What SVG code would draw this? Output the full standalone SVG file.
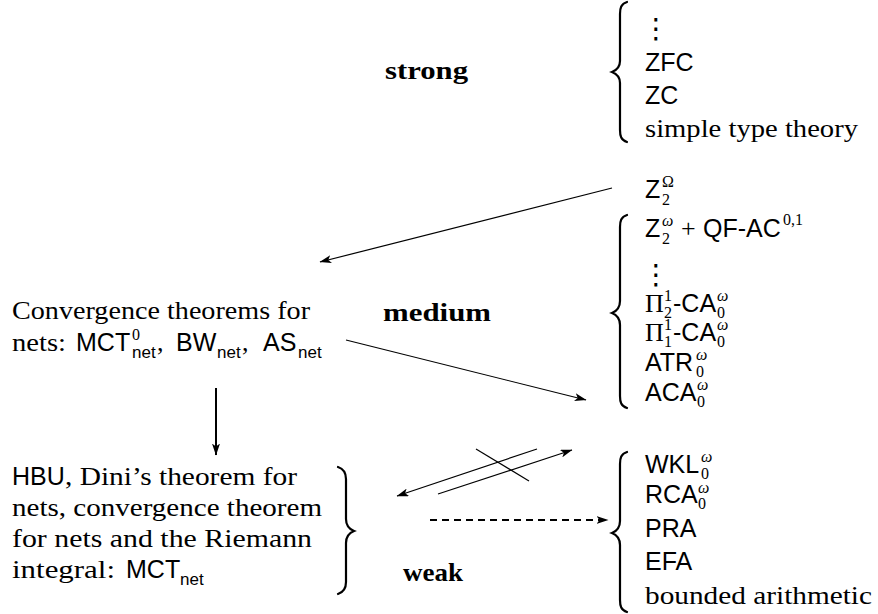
<svg xmlns="http://www.w3.org/2000/svg" width="878" height="614" viewBox="0 0 878 614">
<style>
.s{font-family:"Liberation Sans",Arial,sans-serif;font-size:25px;fill:#000}
.ss{font-family:"Liberation Sans",Arial,sans-serif;font-size:17px;fill:#000}
.r{font-family:"Liberation Serif","Times New Roman",serif;font-size:26px;fill:#000}
.rs{font-family:"Liberation Serif","Times New Roman",serif;font-size:16px;fill:#000}
.ri{font-family:"Liberation Serif","Times New Roman",serif;font-size:16px;font-style:italic;fill:#000}
.b{font-family:"Liberation Serif","Times New Roman",serif;font-size:26px;font-weight:bold;fill:#000}
.dots{font-family:"DejaVu Sans",sans-serif;font-size:28px;fill:#000}
.br{fill:none;stroke:#000;stroke-width:2.2;stroke-linecap:round}
.ln{fill:none;stroke:#000;stroke-width:1.2}
.thk{fill:none;stroke:#000;stroke-width:2}
</style>
<defs>
<marker id="ah" viewBox="0 0 12 8" refX="11.5" refY="4" markerWidth="12" markerHeight="8" markerUnits="userSpaceOnUse" orient="auto">
<path d="M0,0 L12,4 L0,8 L3,4 z" fill="#000"/>
</marker>
</defs>

<g id="label-strong"><text class="b" x="385" y="79" textLength="83" lengthAdjust="spacingAndGlyphs">strong</text></g>
<g id="label-medium"><text class="b" x="383" y="321" textLength="108" lengthAdjust="spacingAndGlyphs">medium</text></g>
<g id="label-weak"><text class="b" x="403" y="581" textLength="60" lengthAdjust="spacingAndGlyphs">weak</text></g>

<g id="strong-systems">
<path class="br" d="M627,2 C621,4 620,8 620,14 L620,61 C620,67 617,70 612,72 C617,74 620,77 620,83 L620,130 C620,136 621,140 627,142"/>
<text class="dots" x="642" y="38">⋮</text>
<text class="s" x="645" y="71">ZFC</text>
<text class="s" x="645" y="104">ZC</text>
<text class="r" x="645" y="137" textLength="213" lengthAdjust="spacingAndGlyphs">simple type theory</text>
</g>

<g id="z2-omega">
<text class="s" x="645" y="198">Z</text>
<text class="rs" x="662" y="205">2</text>
<text class="rs" x="662" y="187">Ω</text>
</g>

<g id="medium-systems">
<path class="br" d="M627,215 C621,217 620,221 620,227 L620,301 C620,307 617,311 612,313 C617,315 620,319 620,325 L620,396 C620,402 621,406 627,408"/>
<text class="s" x="645" y="237">Z</text>
<text class="rs" x="662" y="244">2</text>
<text class="ri" x="662" y="226">ω</text>
<text class="r" x="681" y="237">+</text>
<text class="s" x="703" y="237">QF-AC</text>
<text class="rs" x="783" y="225">0,1</text>
<text class="dots" x="642" y="284">⋮</text>
<text class="r" x="645" y="312">Π</text>
<text class="rs" x="664" y="318">2</text>
<text class="rs" x="664" y="301">1</text>
<text class="s" x="673" y="312">-CA</text>
<text class="rs" x="717" y="318">0</text>
<text class="ri" x="717" y="301">ω</text>
<text class="r" x="645" y="341">Π</text>
<text class="rs" x="664" y="347">1</text>
<text class="rs" x="664" y="330">1</text>
<text class="s" x="673" y="341">-CA</text>
<text class="rs" x="717" y="347">0</text>
<text class="ri" x="717" y="330">ω</text>
<text class="s" x="645" y="371">ATR</text>
<text class="rs" x="696" y="377">0</text>
<text class="ri" x="696" y="360">ω</text>
<text class="s" x="645" y="401">ACA</text>
<text class="rs" x="697" y="407">0</text>
<text class="ri" x="697" y="390">ω</text>
</g>

<g id="weak-systems">
<path class="br" d="M627,452 C621,454 620,458 620,464 L620,521 C620,527 617,531 612,533 C617,535 620,539 620,545 L620,600 C620,606 621,610 627,612"/>
<text class="s" x="645" y="473">WKL</text>
<text class="rs" x="701" y="479">0</text>
<text class="ri" x="701" y="462">ω</text>
<text class="s" x="645" y="503">RCA</text>
<text class="rs" x="698" y="509">0</text>
<text class="ri" x="698" y="493">ω</text>
<text class="s" x="645" y="537">PRA</text>
<text class="s" x="645" y="570">EFA</text>
<text class="r" x="645" y="604" textLength="227" lengthAdjust="spacingAndGlyphs">bounded arithmetic</text>
</g>

<g id="convergence-nets">
<text class="r" x="12" y="319" textLength="298" lengthAdjust="spacingAndGlyphs">Convergence theorems for</text>
<text class="r" x="12" y="351" textLength="54" lengthAdjust="spacingAndGlyphs">nets:</text>
<text class="s" x="76" y="351">MCT</text>
<text class="rs" x="132" y="340">0</text>
<text class="ss" x="132" y="358">net</text>
<text class="r" x="157" y="351">,</text>
<text class="s" x="176" y="351">BW</text>
<text class="ss" x="217" y="358">net</text>
<text class="r" x="242" y="351">,</text>
<text class="s" x="263" y="351">AS</text>
<text class="ss" x="298" y="358">net</text>
</g>

<g id="hbu-dini">
<text class="s" x="12" y="485">HBU</text>
<text class="r" x="65" y="485" textLength="232" lengthAdjust="spacingAndGlyphs">, Dini’s theorem for</text>
<text class="r" x="12" y="516" textLength="310" lengthAdjust="spacingAndGlyphs">nets, convergence theorem</text>
<text class="r" x="12" y="547" textLength="300" lengthAdjust="spacingAndGlyphs">for nets and the Riemann</text>
<text class="r" x="12" y="578" textLength="103" lengthAdjust="spacingAndGlyphs">integral:</text>
<text class="s" x="126" y="578">MCT</text>
<text class="ss" x="180" y="585">net</text>
<path class="br" d="M338,467 C344,469 346,473 346,479 L346,519 C346,525 349,529 354,531 C349,533 346,537 346,543 L346,582 C346,588 344,592 338,594"/>
</g>

<g id="connectors">
<line class="ln" x1="612" y1="188" x2="320" y2="262" marker-end="url(#ah)"/>
<line class="ln" x1="346" y1="340" x2="586" y2="400" marker-end="url(#ah)"/>
<line class="thk" x1="216" y1="388" x2="216" y2="455" marker-end="url(#ah)"/>
<line class="ln" x1="537" y1="449" x2="397" y2="496" marker-end="url(#ah)"/>
<line class="ln" x1="438" y1="494" x2="572" y2="450" marker-end="url(#ah)"/>
<line class="ln" x1="476" y1="449" x2="529" y2="481"/>
<line class="thk" x1="430" y1="520" x2="608" y2="520" stroke-dasharray="7 5" marker-end="url(#ah)"/>
</g>
</svg>
